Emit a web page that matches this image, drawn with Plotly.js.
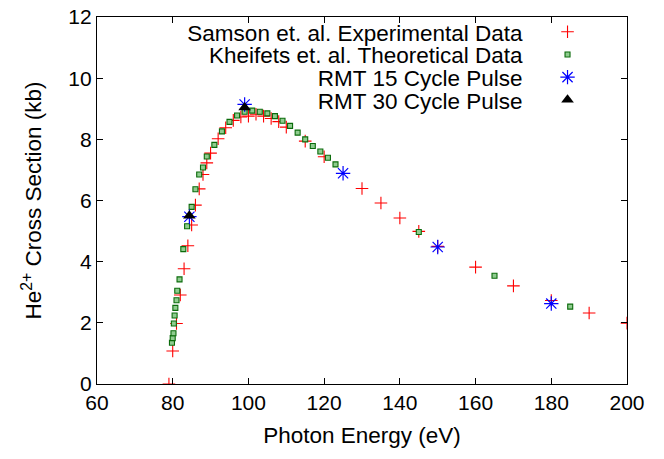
<!DOCTYPE html>
<html>
<head>
<meta charset="utf-8">
<script src="https://cdn.plot.ly/plotly-3.0.1.min.js"></script>
<style>
  html, body { margin: 0; padding: 0; background: #fff; }
  #chart { width: 664px; height: 459px; }
</style>
</head>
<body>
<div id="chart"></div>
<script>
// Samson et. al. experimental data
const samsonX = [79, 80, 81, 82, 83, 84, 85, 86, 87, 88, 89, 90, 92, 94, 96, 98, 100, 102, 104, 106, 108, 110, 115, 120, 130, 135, 140, 145, 150, 160, 170, 180, 190, 200];
const samsonY = [0, 1.08, 1.98, 2.91, 3.77, 4.52, 5.2, 5.85, 6.38, 6.85, 7.23, 7.55, 8.02, 8.38, 8.62, 8.73, 8.76, 8.82, 8.76, 8.68, 8.58, 8.4, 7.94, 7.43, 6.39, 5.92, 5.43, 4.99, 4.5, 3.82, 3.21, 2.73, 2.32, 1.99];

// Kheifets et. al. theoretical data
const kheifetsX = [79.8, 80.0, 80.2, 80.3, 80.5, 80.7, 81.0, 81.2, 81.8, 82.8, 83.8, 85, 86, 87, 88, 89, 91, 93, 95, 97, 99, 101, 103, 105, 107, 109, 111, 113, 115, 117, 119, 121, 123, 145, 165, 185];
const kheifetsY = [1.35, 1.5, 1.66, 1.98, 2.24, 2.49, 2.74, 3.05, 3.42, 4.41, 5.16, 5.79, 6.37, 6.85, 7.08, 7.44, 7.82, 8.26, 8.57, 8.78, 8.9, 8.94, 8.9, 8.85, 8.76, 8.61, 8.44, 8.22, 8.0, 7.78, 7.6, 7.4, 7.18, 4.97, 3.54, 2.53];

// RMT 15 cycle pulse
const rmt15X = [84.4, 99, 125, 150, 180];
const rmt15Y = [5.47, 9.14, 6.89, 4.48, 2.63];

// RMT 30 cycle pulse
const rmt30X = [84.4, 99];
const rmt30Y = [5.5, 9.04];

const seriesNames = ["Samson et. al. Experimental Data", "Kheifets et. al. Theoretical Data", "RMT 15 Cycle Pulse", "RMT 30 Cycle Pulse"];

const xTicks = [60, 80, 100, 120, 140, 160, 180, 200];
const yTicks = [0, 2, 4, 6, 8, 10, 12];

const FONT = "Liberation Sans, Arial, Helvetica, sans-serif";
const FS = 22.5;
const TICKFS = 21;

const traces = [
  { x: samsonX, y: samsonY, name: seriesNames[0], type: "scatter", mode: "markers",
    marker: { symbol: "cross-thin", size: 9, line: { color: "#ff0000", width: 1.1 }, color: "#ff0000" } },
  { x: kheifetsX, y: kheifetsY, name: seriesNames[1], type: "scatter", mode: "markers",
    marker: { symbol: "square", size: 5, color: "#8fcc8f", line: { color: "#0b6b0b", width: 1.1 } } },
  { x: rmt15X, y: rmt15Y, name: seriesNames[2], type: "scatter", mode: "markers",
    marker: { symbol: "asterisk-open", size: 12, color: "#0000ff", line: { color: "#0000ff", width: 1.2 } } },
  { x: rmt30X, y: rmt30Y, name: seriesNames[3], type: "scatter", mode: "markers",
    marker: { symbol: "triangle-up", size: 11, color: "#000000", line: { width: 0 } } }
];

const axisCommon = {
  showline: true, linecolor: "#000", linewidth: 1.2, mirror: "ticks",
  ticks: "inside", ticklen: 6, tickwidth: 1, tickcolor: "#000",
  showgrid: false, zeroline: false,
  tickfont: { family: FONT, size: TICKFS, color: "#000" }
};

const layout = {
  width: 664, height: 459,
  margin: { l: 97, r: 37, t: 17, b: 75 },
  paper_bgcolor: "#fff", plot_bgcolor: "#fff",
  font: { family: FONT, size: FS, color: "#000" },
  showlegend: true,
  legend: {
    x: 1, xanchor: "right", y: 1, yanchor: "top",
    bgcolor: "rgba(0,0,0,0)", borderwidth: 0,
    font: { family: FONT, size: FS, color: "#000" },
    itemclick: false, itemdoubleclick: false
  },
  xaxis: Object.assign({}, axisCommon, {
    range: [60, 200], tickmode: "array", tickvals: xTicks, ticktext: xTicks.map(String),
    title: { text: "Photon Energy (eV)", font: { family: FONT, size: FS, color: "#000" }, standoff: 13 }
  }),
  yaxis: Object.assign({}, axisCommon, {
    range: [0, 12], tickmode: "array", tickvals: yTicks, ticktext: yTicks.map(String),
    title: { text: "He<sup>2+</sup> Cross Section (kb)", font: { family: FONT, size: FS, color: "#000" }, standoff: 20 }
  })
};

Plotly.newPlot("chart", traces, layout, { staticPlot: true, displayModeBar: false }).then(function (gd) {
  // gnuplot-style legend: right-aligned text, symbol on the right
  const leg = gd.querySelector("g.legend");
  if (!leg) return;
  leg.querySelectorAll("[clip-path]").forEach(function (el) { el.removeAttribute("clip-path"); });
  const items = Array.from(leg.querySelectorAll("g.traces"));
  if (!items.length) return;
  let maxW = 0;
  items.forEach(function (it) {
    const t = it.querySelector("text.legendtext");
    if (t) maxW = Math.max(maxW, t.getComputedTextLength());
  });
  const rowGap = 22.7;
  const symGap = 45;
  let baseX = null, baseY = null;
  items.forEach(function (it, i) {
    const tr = (it.getAttribute("transform") || "").match(/translate\(([-\d.]+)[ ,]*([-\d.]*)\)/);
    const tx = tr ? parseFloat(tr[1]) : 0;
    const ty = tr && tr[2] ? parseFloat(tr[2]) : 0;
    if (baseX === null) { baseX = tx; baseY = ty; }
    it.setAttribute("transform", "translate(" + baseX + "," + (baseY + i * rowGap) + ")");
    const t = it.querySelector("text.legendtext");
    if (t) { t.setAttribute("text-anchor", "end"); t.setAttribute("x", maxW); }
    const layers = it.querySelector("g.layers");
    if (layers) layers.setAttribute("transform", "translate(" + (maxW + symGap - 20) + ",0)");
  });
  // place legend so that text right edge sits at target position
  const firstText = items[0].querySelector("text.legendtext");
  const box = firstText.getBoundingClientRect();
  const targetRight = 523, targetMidY = 33;
  const dx = targetRight - box.right;
  const dy = targetMidY - (box.top + box.height / 2);
  const lt = (leg.getAttribute("transform") || "").match(/translate\(([-\d.]+)[ ,]*([-\d.]*)\)/);
  const lx = lt ? parseFloat(lt[1]) : 0;
  const ly = lt && lt[2] ? parseFloat(lt[2]) : 0;
  leg.setAttribute("transform", "translate(" + (lx + dx) + "," + (ly + dy) + ")");
});
</script>
</body>
</html>
